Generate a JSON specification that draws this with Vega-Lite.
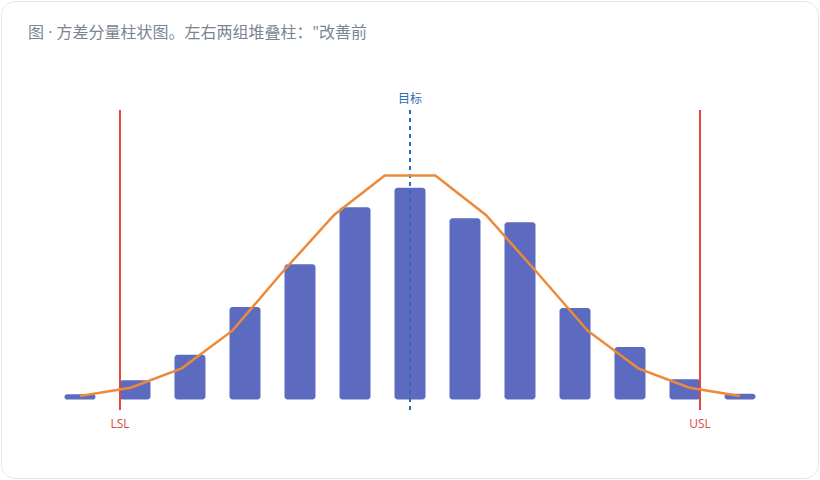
{
  "$schema": "https://vega.github.io/schema/vega-lite/v6.json",
  "width": 817,
  "height": 477,
  "autosize": "none",
  "padding": {"left": 1, "top": 1, "right": 2, "bottom": 2},
  "background": "#ffffff",
  "config": {
    "view": {"stroke": "#e3e6eb", "strokeWidth": 1, "cornerRadius": 14, "fill": "#ffffff"},
    "font": "'Open Sans', 'Noto Sans CJK SC', sans-serif"
  },
  "title": {
    "text": "图 · 方差分量柱状图。左右两组堆叠柱：\"改善前",
    "anchor": "start",
    "frame": "group",
    "dx": 27,
    "offset": -48,
    "baseline": "middle",
    "fontSize": 16,
    "fontWeight": "normal",
    "color": "#7a8593",
    "font": "'Open Sans', 'Noto Sans CJK SC', sans-serif"
  },
  "datasets": {
    "bars": [
      {"bin": 1, "count": 2.6},
      {"bin": 2, "count": 9.6},
      {"bin": 3, "count": 22.4},
      {"bin": 4, "count": 46.2},
      {"bin": 5, "count": 67.6},
      {"bin": 6, "count": 96.1},
      {"bin": 7, "count": 105.9},
      {"bin": 8, "count": 90.6},
      {"bin": 9, "count": 88.6},
      {"bin": 10, "count": 45.8},
      {"bin": 11, "count": 26.2},
      {"bin": 12, "count": 10.1},
      {"bin": 13, "count": 2.9}
    ],
    "curve": [
      {"x": 1, "fit": 1.75},
      {"x": 1.92, "fit": 5.9},
      {"x": 2.85, "fit": 15.6},
      {"x": 3.77, "fit": 34.4},
      {"x": 4.69, "fit": 64.0},
      {"x": 5.62, "fit": 92.25},
      {"x": 6.54, "fit": 112.0},
      {"x": 7.46, "fit": 112.0},
      {"x": 8.38, "fit": 92.25},
      {"x": 9.31, "fit": 63.5},
      {"x": 10.23, "fit": 34.4},
      {"x": 11.15, "fit": 15.6},
      {"x": 12.08, "fit": 5.9},
      {"x": 13, "fit": 1.75}
    ],
    "limits": [
      {"name": "LSL", "x": 1.727, "top": 144.75, "bottom": -5.25, "labelY": -12.25},
      {"name": "USL", "x": 12.273, "top": 144.75, "bottom": -5.25, "labelY": -12.25}
    ],
    "target": [
      {"name": "目标", "x": 7, "top": 144.75, "bottom": -5.25, "labelY": 150.25}
    ]
  },
  "layer": [
    {
      "data": {"name": "bars"},
      "mark": {"type": "bar", "width": 31, "cornerRadius": 3, "color": "#5c6bc0"},
      "encoding": {
        "x": {"field": "bin", "type": "quantitative", "scale": {"domain": [-0.436, 14.418], "nice": false, "zero": false, "padding": 0}, "axis": null},
        "y": {"field": "count", "type": "quantitative", "scale": {"domain": [-39.25, 199.25], "nice": false, "zero": false, "padding": 0}, "axis": null},
        "y2": {"datum": 0}
      }
    },
    {
      "data": {"name": "limits"},
      "mark": {"type": "rule", "color": "#e0483c", "strokeWidth": 2},
      "encoding": {
        "x": {"field": "x", "type": "quantitative"},
        "y": {"field": "top", "type": "quantitative"},
        "y2": {"field": "bottom"}
      }
    },
    {
      "data": {"name": "target"},
      "mark": {"type": "rule", "color": "#2b6cb5", "strokeWidth": 2, "strokeDash": [4, 4]},
      "encoding": {
        "x": {"field": "x", "type": "quantitative"},
        "y": {"field": "top", "type": "quantitative"},
        "y2": {"field": "bottom"}
      }
    },
    {
      "data": {"name": "curve"},
      "mark": {"type": "line", "color": "#ec8a3a", "strokeWidth": 2.5, "strokeJoin": "miter"},
      "encoding": {
        "x": {"field": "x", "type": "quantitative"},
        "y": {"field": "fit", "type": "quantitative"}
      }
    },
    {
      "data": {"name": "limits"},
      "mark": {"type": "text", "color": "#e0483c", "fontSize": 12, "baseline": "middle", "align": "center"},
      "encoding": {
        "x": {"field": "x", "type": "quantitative"},
        "y": {"field": "labelY", "type": "quantitative"},
        "text": {"field": "name"}
      }
    },
    {
      "data": {"name": "target"},
      "mark": {"type": "text", "color": "#2b6cb5", "fontSize": 12, "baseline": "middle", "align": "center"},
      "encoding": {
        "x": {"field": "x", "type": "quantitative"},
        "y": {"field": "labelY", "type": "quantitative"},
        "text": {"field": "name"}
      }
    }
  ]
}
